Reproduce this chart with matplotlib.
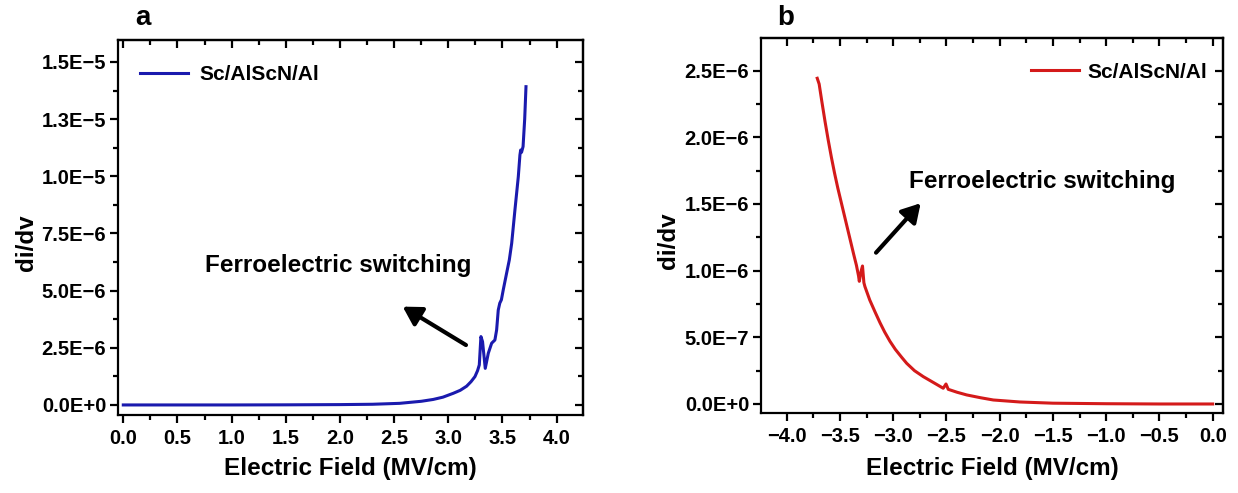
import numpy as np
import matplotlib
matplotlib.use("Agg")
import matplotlib.pyplot as plt
from matplotlib.ticker import MultipleLocator, AutoMinorLocator, FuncFormatter
from decimal import Decimal, ROUND_HALF_UP
import math

plt.rcParams['font.family'] = ['Liberation Sans', 'DejaVu Sans']
plt.rcParams['font.weight'] = 'bold'

# ---------------- data ----------------
# panel a: positive field sweep, di/dv in units of 1e-6
a_field = [0.0, 0.5, 1.0, 1.5, 2.0, 2.3, 2.55, 2.75, 2.86, 2.95, 3.046, 3.11, 3.169,
           3.21, 3.246, 3.27, 3.286, 3.301, 3.316, 3.341, 3.369, 3.40, 3.43, 3.446,
           3.461, 3.475, 3.49, 3.507, 3.538, 3.563, 3.585, 3.615, 3.646, 3.661,
           3.668, 3.676, 3.69, 3.705, 3.717]
a_didv_e6 = [0.0, 0.0, 0.0, 0.005, 0.015, 0.03, 0.07, 0.16, 0.24, 0.34, 0.51, 0.64, 0.82,
             1.02, 1.24, 1.50, 1.75, 2.99, 2.77, 1.60, 2.26, 2.70, 2.84, 3.28,
             4.15, 4.45, 4.60, 5.03, 5.76, 6.34, 7.07, 8.53, 9.98, 10.93,
             11.15, 11.05, 11.3, 12.5, 13.92]

# panel b: negative field sweep, di/dv in units of 1e-6
b_field = [-3.713, -3.695, -3.67, -3.64, -3.61, -3.58, -3.55, -3.52, -3.49, -3.46,
           -3.43, -3.40, -3.37, -3.345, -3.325, -3.318, -3.30, -3.288, -3.275,
           -3.265, -3.22, -3.17, -3.124, -3.08, -3.03, -2.98, -2.92, -2.873, -2.8,
           -2.717, -2.62, -2.530, -2.504, -2.483, -2.40, -2.31, -2.18, -2.06,
           -1.81, -1.5, -1.0, -0.5, 0.0]
b_didv_e6 = [2.443, 2.40, 2.27, 2.12, 1.98, 1.85, 1.73, 1.62, 1.52, 1.42,
             1.32, 1.22, 1.12, 1.04, 0.96, 0.92, 1.00, 1.035, 0.91,
             0.88, 0.78, 0.69, 0.61, 0.54, 0.47, 0.41, 0.35, 0.305, 0.25,
             0.205, 0.16, 0.118, 0.150, 0.110, 0.088, 0.068, 0.047, 0.030,
             0.015, 0.006, 0.002, 0.0, 0.0]

legend_label = "Sc/AlScN/Al"
annot_text = "Ferroelectric switching"
xlabel = "Electric Field (MV/cm)"
ylabel = "di/dv"

blue = "#1a1aae"
red = "#d41a1a"

TICK_FS = 14.5
LABEL_FS = 17.5
ANNOT_FS = 17.5
LEG_FS = 15


def origin_fmt(v, pos=None):
    v = float(v)
    if abs(v) < 1e-20:
        return "0.0E+0"
    e = int(math.floor(math.log10(abs(v)) + 1e-9))
    m = float(v / 10 ** e)
    md = Decimal(str(round(m, 6))).quantize(Decimal('0.1'), rounding=ROUND_HALF_UP)
    sign = "+" if e >= 0 else "\u2212"
    return f"{md}E{sign}{abs(e)}"


def xfmt(v, pos=None):
    v = float(v)
    if abs(v) < 1e-9:
        return "0.0"
    return f"{v:.1f}".replace("-", "\u2212")


def style_axes(ax, xmajor, ymajor):
    for s in ax.spines.values():
        s.set_linewidth(1.6)
    ax.xaxis.set_major_locator(MultipleLocator(xmajor))
    ax.xaxis.set_minor_locator(AutoMinorLocator(2))
    ax.yaxis.set_major_locator(MultipleLocator(ymajor))
    ax.yaxis.set_minor_locator(AutoMinorLocator(2))
    ax.yaxis.set_major_formatter(FuncFormatter(origin_fmt))
    ax.xaxis.set_major_formatter(FuncFormatter(xfmt))
    ax.tick_params(which='major', direction='out', length=6, width=1.6,
                   labelsize=TICK_FS)
    ax.tick_params(axis='y', which='major', pad=2.5)
    ax.tick_params(axis='x', which='major', pad=4)
    ax.tick_params(which='minor', direction='out', length=3.5, width=1.6)
    # inward ticks on top and right
    secx = ax.secondary_xaxis('top')
    secx.xaxis.set_major_locator(MultipleLocator(xmajor))
    secx.xaxis.set_minor_locator(AutoMinorLocator(2))
    secx.tick_params(which='major', direction='in', length=6, width=1.6, labeltop=False)
    secx.tick_params(which='minor', direction='in', length=3.5, width=1.6)
    secx.spines['top'].set_linewidth(1.6)
    secy = ax.secondary_yaxis('right')
    secy.yaxis.set_major_locator(MultipleLocator(ymajor))
    secy.yaxis.set_minor_locator(AutoMinorLocator(2))
    secy.tick_params(which='major', direction='in', length=6, width=1.6, labelright=False)
    secy.tick_params(which='minor', direction='in', length=3.5, width=1.6)
    secy.spines['right'].set_linewidth(1.6)


arrow_props = dict(arrowstyle='-|>,head_length=0.55,head_width=0.32',
                   color='black', lw=3, mutation_scale=20, shrinkA=0, shrinkB=0)

fig = plt.figure(figsize=(12.38, 4.93), dpi=100)

# ---------------- panel a ----------------
axa = fig.add_axes([0.0953, 0.1582, 0.3756, 0.7606])
axa.plot(a_field, np.array(a_didv_e6) * 1e-6, color=blue, lw=2.2, label=legend_label)
axa.set_xlim(-0.049, 4.243)
axa.set_ylim(-4.4e-7, 1.596e-5)
style_axes(axa, 0.5, 2.5e-6)
axa.set_xlabel(xlabel, fontsize=LABEL_FS, fontweight='bold')
axa.set_ylabel(ylabel, fontsize=LABEL_FS, fontweight='bold')
axa.xaxis.set_label_coords(0.5, -0.112)
axa.yaxis.set_label_coords(-0.172, 0.46)
axa.legend(loc='center left', bbox_to_anchor=(0.047, 0.907), frameon=False,
           prop={'size': LEG_FS, 'weight': 'bold'}, handlelength=2.3, handletextpad=0.58,
           borderpad=0, borderaxespad=0)
axa.text(0.754, 6.12e-6, annot_text, fontsize=ANNOT_FS, fontweight='bold',
         ha='left', va='center')
axa.annotate('', xy=(2.579, 4.30e-6), xytext=(3.163, 2.62e-6), arrowprops=arrow_props)

# ---------------- panel b ----------------
axb = fig.add_axes([0.6147, 0.1623, 0.3732, 0.7606])
axb.plot(b_field, np.array(b_didv_e6) * 1e-6, color=red, lw=2.2, label=legend_label)
axb.set_xlim(-4.241, 0.097)
axb.set_ylim(-6.75e-8, 2.745e-6)
style_axes(axb, 0.5, 5e-7)
axb.set_xlabel(xlabel, fontsize=LABEL_FS, fontweight='bold')
axb.set_ylabel(ylabel, fontsize=LABEL_FS, fontweight='bold')
axb.xaxis.set_label_coords(0.5, -0.117)
axb.yaxis.set_label_coords(-0.175, 0.46)
axb.legend(loc='center right', bbox_to_anchor=(0.965, 0.909), frameon=False,
           prop={'size': LEG_FS, 'weight': 'bold'}, handlelength=2.3, handletextpad=0.4,
           borderpad=0, borderaxespad=0)
axb.text(-2.856, 1.668e-6, annot_text, fontsize=ANNOT_FS, fontweight='bold',
         ha='left', va='center')
axb.annotate('', xy=(-2.742, 1.506e-6), xytext=(-3.161, 1.135e-6), arrowprops=arrow_props)

# panel letters
fig.text(143 / 1238, 1 - 18 / 493, "a", fontsize=20, fontweight='bold', ha='center', va='center')
fig.text(786 / 1238, 1 - 18 / 493, "b", fontsize=20, fontweight='bold', ha='center', va='center')

fig.savefig("out.png", dpi=100)
